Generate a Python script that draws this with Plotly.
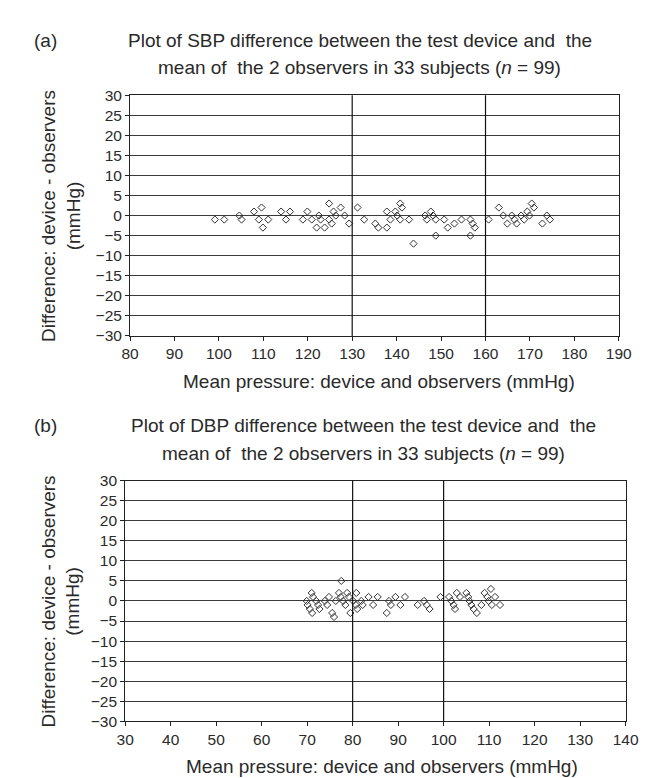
import plotly.graph_objects as go

# ---- Panel (a): SBP ----
sbp_mean = [99.1, 101.2, 104.6, 105.1, 107.9, 109.6, 109.0, 109.9, 111.1,
            114.0, 115.1, 116.0, 118.9, 119.9, 120.9, 122.0, 122.5, 122.9, 123.8,
            124.8, 124.8, 125.4, 125.8, 126.3, 127.4, 128.3, 129.3,
            131.2, 132.7, 135.2, 135.9, 137.8, 137.8, 138.6, 139.7, 140.1, 140.8,
            141.2, 140.8, 142.8, 143.8, 146.4, 146.8, 147.7, 148.2, 148.8, 148.8,
            150.7, 151.5, 153.0, 154.6, 156.6, 156.6, 157.1, 157.6,
            160.7, 163.0, 164.0, 164.9, 165.9, 166.5, 167.0, 168.0, 168.7, 169.4,
            169.9, 170.4, 170.9, 172.8, 173.8, 174.5]
sbp_diff = [-1, -1, 0, -1, 1, 2, -1, -3, -1,
            1, -1, 1, -1, 1, -1, -3, 0, -1, -3,
            3, -1, -2, 1, 0, 2, 0, -2,
            2, -1, -2, -3, 1, -3, -1, 1, 0, 3,
            2, -1, -1, -7, 0, -1, 1, 0, -1, -5,
            -1, -3, -2, -1, -1, -5, -2, -3,
            -1, 2, 0, -2, 0, -1, -2, 0, -1, 1,
            0, 3, 2, -2, 0, -1]

# ---- Panel (b): DBP ----
dbp_mean = [69.9, 70.1, 71.0, 71.3, 70.6, 71.1, 72.0, 72.4, 72.7, 73.9, 74.4,
            74.8, 75.5, 75.9, 76.3, 77.0, 77.4, 77.5, 77.9, 78.4, 78.8, 79.2,
            79.5, 80.1, 80.8, 80.7, 81.0, 81.9, 82.2, 83.5, 84.5, 85.5, 87.5,
            88.0, 88.4, 89.4, 90.5, 91.5, 94.3, 95.7, 96.3, 96.9,
            99.3, 101.2, 101.7, 102.2, 102.5, 102.9, 103.6, 105.0, 105.4, 105.7,
            106.1, 106.6, 107.3, 108.3, 109.0, 109.6, 109.9, 110.4, 110.6, 111.3,
            112.4]
dbp_diff = [0, -1, 2, 1, -2, -3, 0, -1, -2, 0, -1,
            1, -3, -4, 0, 2, 1, 5, 0, -1, 2, 1,
            -3, 0, 2, -1, -2, 0, -1, 1, -1, 1, -3,
            0, -1, 1, -1, 1, -1, 0, -1, -2,
            1, 1, 0, -1, -2, 2, 1, 2, 1, 0,
            -1, -2, -3, -1, 2, 1, 0, 3, -1, 1,
            -1]

sbp_refs = [130, 160]
dbp_refs = [80, 100]
sbp_xticks = list(range(80, 191, 10))
dbp_xticks = list(range(30, 141, 10))
y_ticks = list(range(-30, 31, 5))

title_a1 = "Plot of SBP difference between the test device and  the"
title_b1 = "Plot of DBP difference between the test device and  the"
title_2 = "mean of  the 2 observers in 33 subjects (<i>n</i> = 99)"
x_title = "Mean pressure: device and observers (mmHg)"
y_title = "Difference: device - observers<br>(mmHg)"

W, H = 647, 778
FONT = "Liberation Sans, Arial, sans-serif"
TXT = "#2a2a2a"

# pixel layout
pa = dict(x0=117, x1=623, y0=80, y1=326)
pb = dict(x0=112, x1=630, y0=474, y1=720)

def px(x):
    return x / W

def py(y):
    return 1 - y / H

fig = go.Figure()
marker = dict(symbol="diamond-open", size=5.5, color="#333333", line=dict(width=1, color="#333333"))
fig.add_trace(go.Scatter(x=sbp_mean, y=sbp_diff, mode="markers", marker=marker,
                         xaxis="x", yaxis="y", showlegend=False))
fig.add_trace(go.Scatter(x=dbp_mean, y=dbp_diff, mode="markers", marker=marker,
                         xaxis="x2", yaxis="y2", showlegend=False))

def xax(p, ticks, rng):
    return dict(domain=[px(p["x0"]), px(p["x1"])], range=rng, tickvals=ticks,
                showgrid=False, zeroline=False, showline=True, mirror=True,
                linecolor="#222", linewidth=1, ticks="outside", ticklen=4,
                tickcolor="#222", tickfont=dict(family=FONT, size=15.5, color=TXT))

def yax(p, anchor):
    return dict(domain=[py(p["y1"]), py(p["y0"])], range=[-30, 30], tickvals=y_ticks,
                ticktext=[str(v).replace("-", "\u2212") for v in y_ticks],
                showgrid=True, gridcolor="#3a3a3a", gridwidth=1, zeroline=False,
                showline=True, mirror=True, linecolor="#222", linewidth=1,
                ticks="outside", ticklen=4, tickcolor="#222", anchor=anchor,
                tickfont=dict(family=FONT, size=15.5, color=TXT))

fig.update_layout(
    width=W, height=H, margin=dict(l=0, r=0, t=0, b=0),
    paper_bgcolor="white", plot_bgcolor="white",
    xaxis=dict(**xax(pa, sbp_xticks, [80, 190]), anchor="y"),
    yaxis=yax(pa, "x"),
    xaxis2=dict(**xax(pb, dbp_xticks, [30, 140]), anchor="y2"),
    yaxis2=yax(pb, "x2"),
)

for xv in sbp_refs:
    fig.add_shape(type="line", x0=xv, x1=xv, y0=0, y1=1, xref="x", yref="y domain",
                  line=dict(color="#111", width=1.2))
for xv in dbp_refs:
    fig.add_shape(type="line", x0=xv, x1=xv, y0=0, y1=1, xref="x2", yref="y2 domain",
                  line=dict(color="#111", width=1.2))

ann = []
def text(x, y, s, size, rot=0, xa="center"):
    ann.append(dict(x=px(x), y=py(y), xref="paper", yref="paper", text=s, showarrow=False,
                    textangle=rot, xanchor=xa, yanchor="middle",
                    font=dict(family=FONT, size=size, color=TXT)))

text(29, 24, "(a)", 19)
text(355, 24, title_a1, 19)
text(355, 52, title_2, 19)
text(45, 203, y_title, 19, rot=-90)
text(375, 373, x_title, 19)

text(29, 418, "(b)", 19)
text(359, 418, title_b1, 19)
text(359, 446, title_2, 19)
text(45, 597, y_title, 19, rot=-90)
text(378, 766, x_title, 19)

fig.update_layout(annotations=ann)
fig.write_html("out.html")
